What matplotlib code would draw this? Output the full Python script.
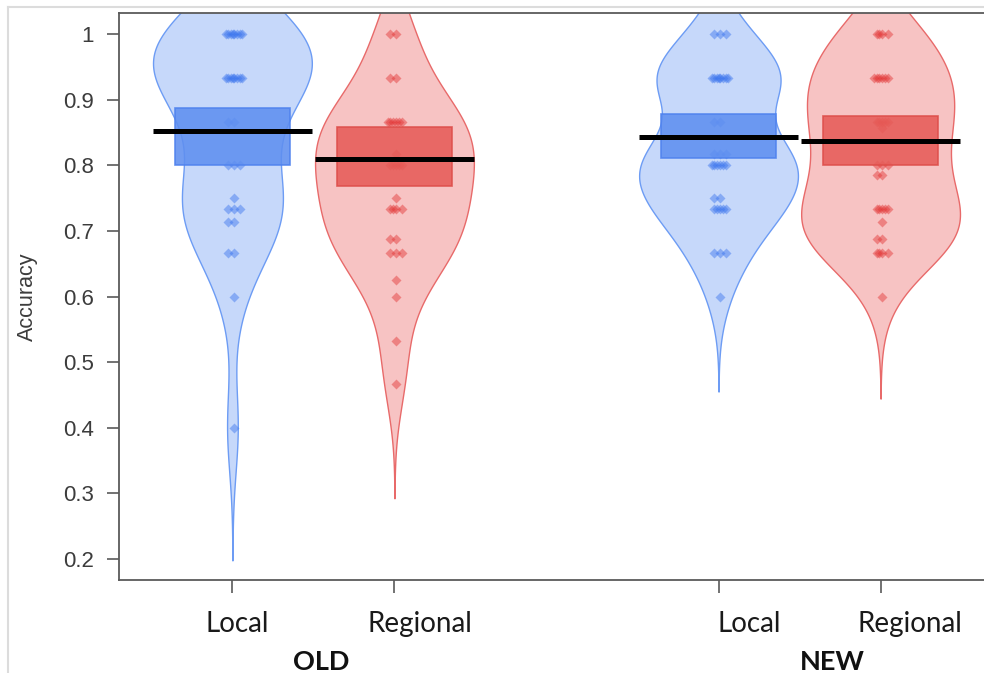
import numpy as np
import matplotlib
matplotlib.use("Agg")
import matplotlib.pyplot as plt
from matplotlib.lines import Line2D
from matplotlib.patches import Rectangle

# ---------------- data ----------------
group_names = ["OLD", "NEW"]
condition_names = ["Local", "Regional", "Local", "Regional"]
positions = [1, 2, 4, 5]

old_local = [1.0, 1.0, 1.0, 1.0, 1.0, 1.0, 1.0, 1.0,
             0.933, 0.933, 0.933, 0.933, 0.933, 0.933, 0.933, 0.933,
             0.867, 0.867, 0.8, 0.8, 0.8, 0.75, 0.733, 0.733, 0.733,
             0.714, 0.714, 0.667, 0.667, 0.6, 0.4]
old_regional = [1.0, 1.0, 0.933, 0.933,
                0.867, 0.867, 0.867, 0.867, 0.867, 0.867, 0.818,
                0.8, 0.8, 0.8, 0.8, 0.8, 0.75, 0.733, 0.733, 0.733, 0.733,
                0.688, 0.688, 0.667, 0.667, 0.667, 0.625, 0.6, 0.533, 0.467]
new_local = [1.0, 1.0, 1.0,
             0.933, 0.933, 0.933, 0.933, 0.933, 0.933, 0.933, 0.933,
             0.867, 0.867, 0.818, 0.818, 0.818, 0.8, 0.8, 0.8, 0.8, 0.8, 0.8,
             0.75, 0.75, 0.733, 0.733, 0.733, 0.733, 0.733,
             0.667, 0.667, 0.667, 0.6]
new_regional = [1.0, 1.0, 1.0, 1.0,
                0.933, 0.933, 0.933, 0.933, 0.933, 0.933,
                0.867, 0.867, 0.867, 0.867, 0.867, 0.857,
                0.8, 0.8, 0.8, 0.786, 0.786,
                0.733, 0.733, 0.733, 0.733, 0.733, 0.714, 0.688, 0.688,
                0.667, 0.667, 0.667, 0.667, 0.6]
all_data = [old_local, old_regional, new_local, new_regional]

means = [0.853, 0.810, 0.844, 0.838]
hdi_low = [0.801, 0.768, 0.812, 0.801]
hdi_high = [0.888, 0.859, 0.878, 0.875]

yticks = [0.2, 0.3, 0.4, 0.5, 0.6, 0.7, 0.8, 0.9, 1.0]
ytick_labels = ["0.2", "0.3", "0.4", "0.5", "0.6", "0.7", "0.8", "0.9", "1"]
y_label = "Accuracy"

# ---------------- style ----------------
bean_fill = ["#c6d8fa", "#f7c3c3", "#c6d8fa", "#f7c3c3"]
bean_edge = ["#6d9cf4", "#e86a6a", "#6d9cf4", "#e86a6a"]
point_col = ["#3a74ee", "#e23232", "#3a74ee", "#e23232"]
box_fill = ["#5f8ff0", "#e65c58", "#5f8ff0", "#e65c58"]
box_edge = ["#4f82ee", "#de4e4a", "#4f82ee", "#de4e4a"]
half_width = 0.49

W, H = 984, 673
fig = plt.figure(figsize=(W / 100, H / 100), dpi=100)
fig.patch.set_facecolor("white")
ax = fig.add_axes([119 / W, 1 - 580 / H, 875 / W, 567 / H])
ax.set_xlim(0.3, 5.7)
ax.set_ylim(0.168, 1.0325)


def bandwidth(vals):
    v = np.asarray(vals, dtype=float)
    sd = v.std(ddof=1)
    q75, q25 = np.percentile(v, [75, 25])
    return 0.9 * min(sd, (q75 - q25) / 1.34) * len(v) ** -0.2


def kde(vals, grid, h):
    v = np.asarray(vals, dtype=float)
    return np.exp(-0.5 * ((grid[:, None] - v[None, :]) / h) ** 2).sum(axis=1)


spread_pattern = [0.0, -0.035, 0.035, -0.018, 0.018, -0.05, 0.05, -0.008, 0.008, -0.026, 0.026]

for i, (pos, vals) in enumerate(zip(positions, all_data)):
    h = bandwidth(vals)
    grid = np.linspace(min(vals) - 3 * h, max(vals) + 3 * h, 600)
    d = kde(vals, grid, h)
    d = d / d.max() * half_width
    ax.fill_betweenx(grid, pos - d, pos + d, facecolor=bean_fill[i],
                     edgecolor=bean_edge[i], linewidth=1.0, zorder=1)

    # points: identical scores spread sideways
    xs = []
    counts = {}
    for v in vals:
        k = counts.get(v, 0)
        counts[v] = k + 1
        xs.append(pos + 0.01 + spread_pattern[k % len(spread_pattern)])
    ax.plot(xs, vals, linestyle="none", marker="D", markersize=4.6,
            markerfacecolor=point_col[i], markeredgecolor="none",
            alpha=0.45, zorder=2)

    # inference band
    ax.add_patch(Rectangle((pos - 0.355, hdi_low[i]), 0.71, hdi_high[i] - hdi_low[i],
                           facecolor=box_fill[i], edgecolor=box_edge[i],
                           linewidth=1.2, alpha=0.88, zorder=3))
    # mean line
    ax.plot([pos - 0.49, pos + 0.49], [means[i], means[i]], color="black",
            linewidth=3.6, solid_capstyle="butt", zorder=4)

# axes styling
for s in ["left", "bottom", "top"]:
    ax.spines[s].set_color("#5a5a5a")
    ax.spines[s].set_linewidth(1.3)
ax.spines["right"].set_visible(False)
ax.set_yticks(yticks)
ax.set_yticklabels(ytick_labels, fontsize=16, family="Liberation Sans", color="#3c3c3c")
ax.set_xticks(positions)
ax.set_xticklabels([""] * len(positions))
ax.tick_params(axis="both", length=9, width=1.2, color="#5a5a5a", direction="out")
ax.tick_params(axis="y", pad=9)
ax.set_ylabel(y_label, fontsize=15.5, family="Liberation Sans", color="#3c3c3c", labelpad=18)

# category labels placed below the axis (as in the reference)
label_x = [1.03, 2.16, 4.19, 5.18]
for x, name in zip(label_x, condition_names):
    ax.text(x, -44 / 567, name, transform=ax.get_xaxis_transform(),
            ha="center", va="center", fontsize=20, family="Lato", color="#1a1a1a")
group_x = [1.55, 4.7]
for x, name in zip(group_x, group_names):
    ax.text(x, -82 / 567, name, transform=ax.get_xaxis_transform(),
            ha="center", va="center", fontsize=19.5, family="Lato",
            fontweight="bold", color="#111111")

# light screenshot frame
fig.add_artist(Line2D([8 / W, 8 / W], [0, 1 - 7 / H], color="#dcdcdc", linewidth=1.5))
fig.add_artist(Line2D([8 / W, 1], [1 - 7 / H, 1 - 7 / H], color="#dcdcdc", linewidth=1.5))

fig.savefig("out.png", dpi=100)
